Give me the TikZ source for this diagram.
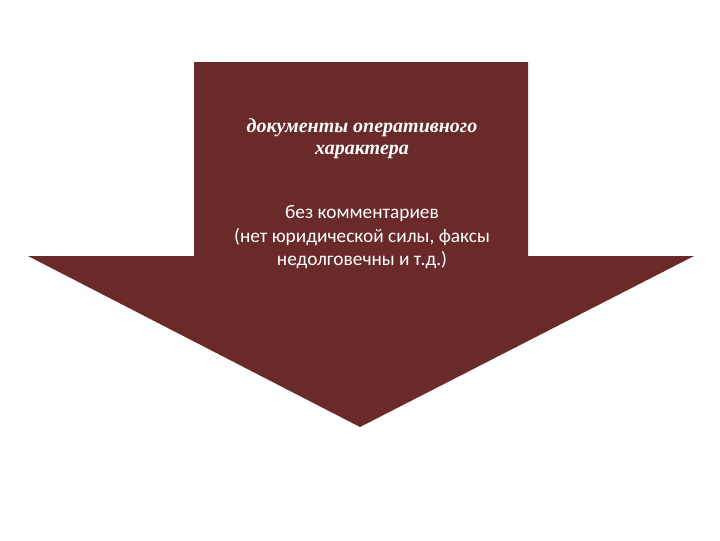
\documentclass[tikz,border=0pt]{standalone}
\usepackage{fontspec}
\setmainfont{Liberation Serif}
\newfontfamily\bodyfont{Carlito}
\definecolor{arrowred}{RGB}{106,42,42}

\begin{document}
\begin{tikzpicture}[x=0.75pt, y=-0.75pt,
		titletext/.style={text=white, align=center, font=\fontsize{15}{16.5}\selectfont\itshape\bfseries},
		bodytext/.style={text=white, align=center, font=\bodyfont\fontsize{14.5}{17.6}\selectfont}]
			\useasboundingbox (0,0) rectangle (720,540);
			\fill [arrowred] (194,62) -- (528,62) -- (528,256) -- (694,256) -- (360,427) -- (28,256) -- (194,256) -- cycle;
			\node [titletext] (title) at (362, 139) {документы оперативного\\характера};
			\node [bodytext] (notes) at (362, 237) {без комментариев\\(нет юридической силы, факсы\\недолговечны и т.д.)};
	\end{tikzpicture}
\end{document}
